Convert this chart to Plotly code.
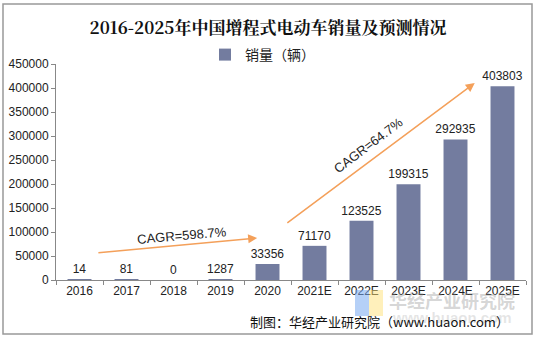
import plotly.graph_objects as go

years = ["2016", "2017", "2018", "2019", "2020", "2021E", "2022E", "2023E", "2024E", "2025E"]
sales = [14, 81, 0, 1287, 33356, 71170, 123525, 199315, 292935, 403803]
yticks = [0, 50000, 100000, 150000, 200000, 250000, 300000, 350000, 400000, 450000]
cagr_labels = ["CAGR=598.7%", "CAGR=64.7%"]

BAR = "#737c9f"
ORANGE = "#f4a05a"
FONT = "Liberation Sans, Arial, sans-serif"

def px(x):
    return (x - 56) / 470
def py(y):
    return (280 - y) / 216

fig = go.Figure()
fig.add_trace(go.Bar(
    x=years, y=sales, name="销量（辆）",
    marker=dict(color=BAR, line=dict(width=0)),
    text=[str(v) for v in sales], textposition="outside", constraintext="none",
    textfont=dict(family=FONT, size=12, color="#222"),
    cliponaxis=False,
))

fig.update_layout(
    width=536, height=342,
    margin=dict(l=56, r=10, t=64, b=62),
    paper_bgcolor="white", plot_bgcolor="white",
    bargap=0.49,
    showlegend=True,
    legend=dict(orientation="h", x=px(205), xanchor="left", y=py(55), yanchor="middle",
                font=dict(family="Noto Sans CJK SC", size=14, color="#222"),
                itemwidth=30, bgcolor="rgba(0,0,0,0)"),
    title=dict(text="<b>2016-2025年中国增程式电动车销量及预测情况</b>",
               x=0.5, xanchor="center", y=0.918, yanchor="middle",
               font=dict(family="Noto Serif CJK SC, Noto Sans CJK SC", size=17, color="#111")),
    xaxis=dict(type="category", showline=True, linecolor="#888", linewidth=1,
               ticks="outside", tickson="boundaries", ticklen=4, tickcolor="#888",
               tickfont=dict(family=FONT, size=12, color="#222"), showgrid=False),
    yaxis=dict(range=[0, 450000], tickvals=yticks, ticktext=[str(v) for v in yticks],
               showline=True, linecolor="#888", linewidth=1, ticks="outside", ticklen=4,
               tickcolor="#888", showgrid=False, zeroline=False,
               tickfont=dict(family=FONT, size=12, color="#222")),
    font=dict(family=FONT),
)

# outer frame
fig.add_shape(type="rect", xref="paper", yref="paper",
              x0=px(3), x1=px(532), y0=py(334), y1=py(4),
              line=dict(color="#999", width=1.5), fillcolor="rgba(0,0,0,0)", layer="below")

# CAGR arrows
fig.add_annotation(x=3.78, y=87500, ax=0.37, ay=56250, xref="x", yref="y", axref="x", ayref="y",
                   showarrow=True, arrowhead=2, arrowsize=1.2, arrowwidth=1.5, arrowcolor=ORANGE, text="")
fig.add_annotation(x=8.41, y=410400, ax=4.39, ay=116700, xref="x", yref="y", axref="x", ayref="y",
                   showarrow=True, arrowhead=2, arrowsize=1.2, arrowwidth=1.5, arrowcolor=ORANGE, text="")
fig.add_annotation(x=(182 - 79.5) / 47, y=(280 - 235) / 24 * 50000, xref="x", yref="y",
                   text=cagr_labels[0], showarrow=False, textangle=-5,
                   xanchor="center", yanchor="middle",
                   font=dict(family=FONT, size=13, color="#222"))
fig.add_annotation(x=(368 - 79.5) / 47, y=(280 - 145) / 24 * 50000, xref="x", yref="y",
                   text=cagr_labels[1], showarrow=False, textangle=-37,
                   xanchor="center", yanchor="middle",
                   font=dict(family=FONT, size=13, color="#222"))

# watermark
fig.add_shape(type="rect", xref="paper", yref="paper", x0=px(355), x1=px(369), y0=py(316), y1=py(290),
              fillcolor="rgba(120,170,240,0.55)", line=dict(width=0), layer="above")
fig.add_shape(type="rect", xref="paper", yref="paper", x0=px(369), x1=px(383), y0=py(316), y1=py(290),
              fillcolor="rgba(255,225,120,0.5)", line=dict(width=0), layer="above")
fig.add_annotation(x=px(452), y=py(300), xref="paper", yref="paper", text="<b>华经产业研究院</b>",
                   xanchor="center", yanchor="middle",
                   showarrow=False, font=dict(family="Noto Sans CJK SC", size=18, color="rgba(150,150,150,0.4)"))
fig.add_annotation(x=px(452), y=py(317), xref="paper", yref="paper", text="<b>www.huaon.com</b>",
                   xanchor="center", yanchor="middle",
                   showarrow=False, font=dict(family=FONT, size=15, color="rgba(150,150,150,0.25)"))
fig.add_annotation(x=px(511), y=py(321), xref="paper", yref="paper", xanchor="right", yanchor="middle",
                   text="制图：华经产业研究院（www.huaon.com）",
                   showarrow=False, font=dict(family="Noto Sans CJK SC", size=13, color="#111"))

fig.write_html("out.html")
